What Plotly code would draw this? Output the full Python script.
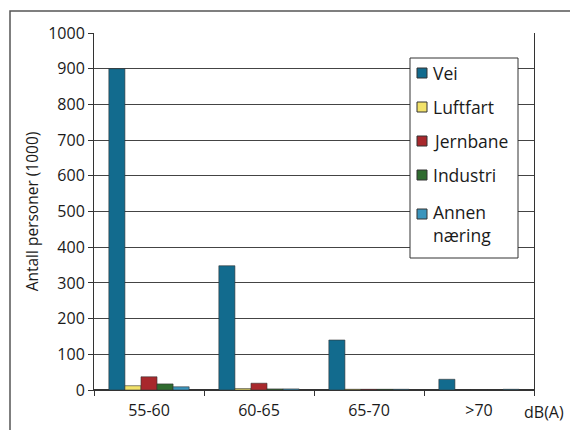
import plotly.graph_objects as go

categories = ["55-60", "60-65", "65-70", ">70"]
series_names = ["Vei", "Luftfart", "Jernbane", "Industri", "Annen<br>næring"]
vei = [900, 348, 140, 30]
luftfart = [12, 4, 2, 0]
jernbane = [37, 19, 2, 0]
industri = [17, 3, 2, 0]
annen = [9, 3, 2, 2]
y_ticks = [0, 100, 200, 300, 400, 500, 600, 700, 800, 900, 1000]

colors = ["#126b8e", "#f2e26a", "#a8282c", "#2f6b2f", "#3a95bd"]
values = [vei, luftfart, jernbane, industri, annen]

FONT = "Open Sans, Noto Sans, sans-serif"
TXT = "#1a1a1a"

# plot area in pixels
L, R, T, B = 94, 534, 33, 390
W, H = 570, 430


def px(x):
    return (x - L) / (R - L)


def py(y):
    return (B - y) / (B - T)


fig = go.Figure()
for name, vals, col in zip(series_names, values, colors):
    fig.add_trace(go.Bar(
        x=categories, y=vals, name=name, showlegend=False,
        marker=dict(color=col, line=dict(color="#333333", width=0.6)),
    ))

fig.update_layout(
    width=W, height=H,
    margin=dict(l=L, r=W - R, t=T, b=H - B, autoexpand=False),
    paper_bgcolor="white", plot_bgcolor="white",
    font=dict(family=FONT, size=14, color=TXT),
    barmode="group", bargap=0.27, bargroupgap=0,
    xaxis=dict(
        type="category", tickson="boundaries", ticks="outside", ticklen=5,
        tickcolor="#333333", showline=True, linecolor="#333333", linewidth=1,
        showgrid=False, tickfont=dict(size=16, color=TXT), ticklabelstandoff=6,
    ),
    yaxis=dict(
        range=[0, 1000], tickvals=y_ticks, ticks="outside", ticklen=5,
        tickcolor="#333333", showline=True, linecolor="#333333", linewidth=1,
        mirror=True, showgrid=True, gridcolor="#444444", gridwidth=1,
        zeroline=True, zerolinecolor="#333333", tickfont=dict(size=16, color=TXT),
        title=dict(text="Antall personer (1000)", font=dict(size=15.5, color=TXT), standoff=5),
    ),
)

fig.add_annotation(text="dB(A)", xref="paper", yref="paper", x=px(544), y=py(412),
                   xanchor="center", yanchor="middle",
                   showarrow=False, font=dict(size=16, family=FONT, color=TXT))

# outer frame (top and left edges visible)
fig.add_shape(type="rect", xref="paper", yref="paper",
              x0=px(10), y0=py(470), x1=px(600), y1=py(11),
              line=dict(color="#555555", width=1.5), layer="below")

# legend drawn as box, swatches and labels
fig.add_shape(type="rect", xref="paper", yref="paper",
              x0=px(410), y0=py(258), x1=px(518), y1=py(58),
              line=dict(color="#333333", width=1), fillcolor="white", layer="above")
label_y = [73, 107, 141, 175, 223]
swatch_y = [73, 107, 141, 175, 214]
for name, col, ly, sy in zip(series_names, colors, label_y, swatch_y):
    fig.add_shape(type="rect", xref="paper", yref="paper",
                  x0=px(417), y0=py(sy + 5), x1=px(427), y1=py(sy - 5),
                  line=dict(color="#333333", width=1), fillcolor=col, layer="above")
    fig.add_annotation(text=name, xref="paper", yref="paper", x=px(431), y=py(ly),
                       xanchor="left", yanchor="middle", align="left", showarrow=False,
                       font=dict(size=17.5, family=FONT, color=TXT))

fig.write_html("out.html", config={"displayModeBar": False},
               post_script="document.body.style.margin='0';")
